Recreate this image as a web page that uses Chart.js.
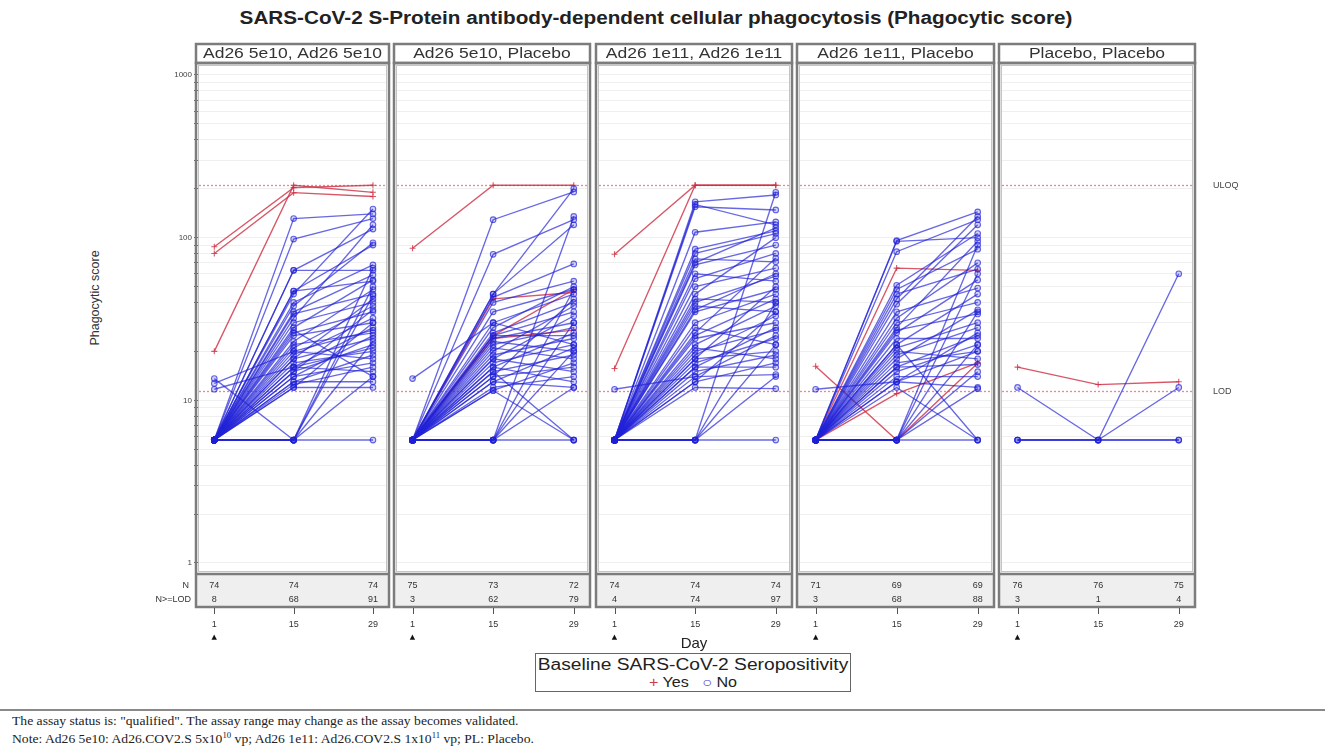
<!DOCTYPE html>
<html>
<head>
<meta charset="utf-8">
<script src="https://cdn.jsdelivr.net/npm/chart.js@4.4.0/dist/chart.umd.min.js"></script>
<style>
    body { margin: 0; background: #fff; width: 1333px; height: 749px; overflow: hidden; position: relative; font-family: "Liberation Sans", Arial, sans-serif; }
    canvas.panel { position: absolute; left: 0; top: 0; }
    #title { position: absolute; top: 8px; left: 0; width: 1312px; text-align: center; font-weight: bold; font-size: 18px; color: #222; transform: scaleX(1.15); }
    #yTitle { position: absolute; left: 45px; top: 291px; width: 100px; text-align: center; font-size: 12.5px; color: #333; transform: rotate(-90deg); }
    #legend { position: absolute; left: 535px; top: 653px; width: 314px; height: 37px; border: 1.5px solid #666; color: #222; }
    #legend .lt { font-size: 16px; line-height: 19px; margin-top: 1px; text-align: center; transform: scaleX(1.2); }
    #legend .li { font-size: 14px; line-height: 16px; text-align: center; transform: scaleX(1.15); }
    #footLine { position: absolute; left: 0; top: 709px; width: 1325px; height: 0; border-top: 2px solid #8a8a8a; }
    .foot { position: absolute; left: 12px; font-family: "Liberation Serif", "Times New Roman", serif; font-size: 12.5px; color: #222; white-space: nowrap; transform: scaleX(1.09); transform-origin: left center; }
    .foot sup { font-size: 8px; }
</style>
</head>
<body>
<div id="title">SARS-CoV-2 S-Protein antibody-dependent cellular phagocytosis (Phagocytic score)</div>
<div id="yTitle">Phagocytic score</div>
<div id="legend">
    <div class="lt">Baseline SARS-CoV-2 Seropositivity</div>
    <div class="li"><span style="color:#d03a4a">+</span> Yes &nbsp;&nbsp;<span style="color:#3a3ad8">○</span> No</div>
</div>
<div id="footLine"></div>
<div class="foot" style="top:714px">The assay status is: "qualified". The assay range may change as the assay becomes validated.</div>
<div class="foot" style="top:731px">Note: Ad26 5e10: Ad26.COV2.S 5x10<sup>10</sup> vp; Ad26 1e11: Ad26.COV2.S 1x10<sup>11</sup> vp; PL: Placebo.</div>

<canvas class="panel" id="p0" width="1333" height="749"></canvas>
<canvas class="panel" id="p1" width="1333" height="749"></canvas>
<canvas class="panel" id="p2" width="1333" height="749"></canvas>
<canvas class="panel" id="p3" width="1333" height="749"></canvas>
<canvas class="panel" id="p4" width="1333" height="749"></canvas>

<script>
// Data
const days = [1, 15, 29];
const panelTitles = ['Ad26 5e10, Ad26 5e10', 'Ad26 5e10, Placebo', 'Ad26 1e11, Ad26 1e11', 'Ad26 1e11, Placebo', 'Placebo, Placebo'];
const nTotal = [[74, 74, 74], [75, 73, 72], [74, 74, 74], [71, 69, 69], [76, 76, 75]];
const nLod = [[8, 68, 91], [3, 62, 79], [4, 74, 97], [3, 68, 88], [3, 1, 4]];
const yTicks = [1, 10, 100, 1000];
const yGridValues = [1, 2, 3, 4, 5, 6, 7, 8, 9, 10, 20, 30, 40, 50, 60, 70, 80, 90, 100, 200, 300, 400, 500, 600, 700, 800, 900, 1000];
const uloq = 210;
const lod = 11.4;

// one row per subject: [day 1, day 15, day 29]
const p1Yes = [[88, 203, 210], [80, 189, 179], [20, 210, 190]];
const p1No = [
    [5.7, 131, 140], [5.7, 98, 131], [5.7, 63, 113], [5.7, 63, 63], [5.7, 47, 90], [5.7, 47, 54],
    [5.7, 45, 150], [5.7, 40, 68], [5.7, 35, 59], [5.7, 34, 45], [5.7, 32, 120], [5.7, 30, 40],
    [5.7, 28, 55], [5.7, 26, 35], [5.7, 25, 30], [5.7, 23, 48], [5.7, 22, 26], [5.7, 21, 38],
    [5.7, 20, 18], [5.7, 19, 32], [5.7, 18, 24], [5.7, 18, 42], [5.7, 17, 20], [5.7, 16, 28],
    [5.7, 16, 15], [5.7, 15, 22], [5.7, 15, 36], [5.7, 14, 17], [5.7, 14, 25], [5.7, 13, 13],
    [5.7, 13, 19], [5.7, 12.5, 16], [5.7, 12, 12], [5.7, 12, 30], [13.6, 5.7, 44], [12.7, 20, 27],
    [11.7, 16, 21], [5.7, 5.7, 5.7], [5.7, 5.7, 50], [5.7, 5.7, 14], [5.7, 5.7, 23], [5.7, 5.7, 65],
    [5.7, 38, 93], [5.7, 27, 14]
];
const p2Yes = [[86, 210, 210], [5.7, 42, 46], [5.7, 25, 48], [5.7, 24, 27]];
const p2No = [
    [13.6, 30, 22], [5.7, 129, 191], [5.7, 79, 129], [5.7, 45, 120], [5.7, 45, 200], [5.7, 43, 69],
    [5.7, 40, 54], [5.7, 35, 48], [5.7, 30, 45], [5.7, 26, 40], [5.7, 25, 35], [5.7, 25, 25],
    [5.7, 24, 30], [5.7, 23, 20], [5.7, 22, 28], [5.7, 21, 18], [5.7, 20, 38], [5.7, 19, 24],
    [5.7, 18, 15], [5.7, 18, 33], [5.7, 17, 22], [5.7, 16, 13], [5.7, 16, 26], [5.7, 15, 19],
    [5.7, 15, 5.7], [5.7, 14, 16], [5.7, 14, 42], [5.7, 13, 12], [5.7, 13, 21], [5.7, 12, 14],
    [5.7, 11.5, 5.7], [5.7, 11.5, 17], [5.7, 5.7, 5.7], [5.7, 5.7, 48], [5.7, 5.7, 30], [5.7, 5.7, 20],
    [5.7, 5.7, 12], [5.7, 5.7, 135], [5.7, 28, 50]
];
const p3Yes = [[79, 210, 210], [15.7, 210, 210]];
const p3No = [
    [11.7, 14, 25], [5.7, 166, 183], [5.7, 155, 148], [5.7, 160, 120], [5.7, 108, 125], [5.7, 85, 110],
    [5.7, 80, 106], [5.7, 74, 71], [5.7, 70, 115], [5.7, 68, 90], [5.7, 60, 54], [5.7, 56, 80],
    [5.7, 50, 65], [5.7, 45, 100], [5.7, 42, 40], [5.7, 40, 58], [5.7, 38, 35], [5.7, 35, 48],
    [5.7, 30, 45], [5.7, 28, 22], [5.7, 25, 42], [5.7, 24, 30], [5.7, 22, 38], [5.7, 21, 18],
    [5.7, 20, 27], [5.7, 19, 33], [5.7, 18, 20], [5.7, 18, 50], [5.7, 17, 24], [5.7, 16, 16],
    [5.7, 16, 28], [5.7, 15, 19], [5.7, 14, 14.4], [5.7, 13, 17], [5.7, 12, 11.8], [5.7, 13, 35],
    [5.7, 5.7, 5.7], [5.7, 5.7, 190], [5.7, 5.7, 22], [5.7, 5.7, 14], [5.7, 5.7, 40], [5.7, 26, 75],
    [5.7, 36, 60]
];
const p4Yes = [[16.2, 5.7, 16.9], [5.7, 65, 63], [5.7, 11, 17]];
const p4No = [
    [11.7, 13, 20], [5.7, 96, 144], [5.7, 82, 129], [5.7, 95, 100], [5.7, 51, 106], [5.7, 48, 85],
    [5.7, 45, 64], [5.7, 39, 120], [5.7, 35, 49], [5.7, 32, 70], [5.7, 30, 40], [5.7, 27, 34],
    [5.7, 26, 55], [5.7, 24, 24], [5.7, 22, 45], [5.7, 21, 30], [5.7, 20, 18], [5.7, 19, 28],
    [5.7, 18, 36], [5.7, 17, 20], [5.7, 16, 16.6], [5.7, 16, 25], [5.7, 15, 22], [5.7, 14, 14],
    [5.7, 13, 12], [5.7, 13, 26], [5.7, 12, 5.7], [5.7, 22, 5.7], [5.7, 5.7, 5.7], [5.7, 5.7, 60],
    [5.7, 5.7, 35], [5.7, 5.7, 22], [5.7, 5.7, 15], [5.7, 5.7, 11.8], [5.7, 5.7, 90], [5.7, 28, 95],
    [5.7, 42, 135]
];
const p5Yes = [[16, 12.5, 13]];
const p5No = [[12, 5.7, 12], [5.7, 5.7, 60], [5.7, 5.7, 5.7], [5.7, 5.7, 5.7]];

const yesRows = [p1Yes, p2Yes, p3Yes, p4Yes, p5Yes];
const noRows = [p1No, p2No, p3No, p4No, p5No];

// Layout
const panelLeft = [196, 394, 596, 797, 999];
const panelRight = [389, 590, 792, 994, 1195];
const plotTop = 65;
const plotBottom = 573;
const tableBottom = 607;
const xAxisH = 80;
const yAxisW = 40;

const blue = 'rgba(32, 32, 215, 0.68)';
const blueFill = 'rgba(32, 32, 215, 0.2)';
const red = 'rgba(205, 45, 65, 0.8)';

function subjectSets(rows, color, fill, style) {
    return rows.map(r => ({
        data: days.map((d, k) => ({ x: d, y: r[k] })),
        borderColor: color,
        backgroundColor: fill,
        pointBorderColor: color,
        pointBackgroundColor: fill,
        pointStyle: style,
        pointRadius: style === 'cross' ? 3 : 2.8,
        pointBorderWidth: 1.1,
        borderWidth: 1.35
    }));
}

const panelDecor = {
    id: 'panelDecor',
    beforeDatasetsDraw(chart) {
        const { ctx, chartArea: a, scales: { y } } = chart;
        ctx.save();
        ctx.strokeStyle = 'rgba(242, 110, 120, 0.85)';
        ctx.setLineDash([2, 2]);
        ctx.lineWidth = 1.3;
        [uloq, lod].forEach(v => {
            const py = Math.round(y.getPixelForValue(v)) + 0.5;
            ctx.beginPath();
            ctx.moveTo(a.left, py);
            ctx.lineTo(a.right, py);
            ctx.stroke();
        });
        ctx.restore();
    },
    afterDraw(chart, args, opts) {
        const i = opts.index;
        const { ctx, scales: { x, y } } = chart;
        const L = panelLeft[i], R = panelRight[i];
        ctx.save();

        // N table
        ctx.fillStyle = '#efefef';
        ctx.fillRect(L, plotBottom + 1, R - L, tableBottom - plotBottom - 1);
        ctx.fillStyle = '#333';
        ctx.font = '9px "Liberation Sans", Arial, sans-serif';
        ctx.textAlign = 'center';
        ctx.textBaseline = 'middle';
        days.forEach((d, k) => {
            const px = x.getPixelForValue(d);
            ctx.fillText(String(nTotal[i][k]), px, 586);
            ctx.fillText(String(nLod[i][k]), px, 600);
        });
        if (i === 0) {
            ctx.textAlign = 'right';
            ctx.fillText('N', 189, 586);
            ctx.fillText('N>=LOD', 191, 600);
        }

        // frames
        ctx.strokeStyle = '#7c7c7c';
        ctx.lineWidth = 2.5;
        ctx.strokeRect(L, 44, R - L, 19);
        ctx.strokeRect(L, 63, R - L, tableBottom - 63);
        ctx.beginPath();
        ctx.moveTo(L, plotBottom + 1);
        ctx.lineTo(R, plotBottom + 1);
        ctx.stroke();
        ctx.strokeStyle = '#c4c4c4';
        ctx.lineWidth = 1;
        ctx.strokeRect(L + 2.5, 65.5, R - L - 5, plotBottom - 67);

        // header text, stretched like the source
        ctx.fillStyle = '#333';
        ctx.font = '14px "Liberation Sans", Arial, sans-serif';
        ctx.textAlign = 'center';
        ctx.textBaseline = 'middle';
        ctx.save();
        ctx.translate((L + R) / 2, 54);
        ctx.scale(1.25, 1);
        ctx.fillText(panelTitles[i], 0, 0);
        ctx.restore();

        // day tick marks and baseline arrow
        ctx.strokeStyle = '#555';
        ctx.lineWidth = 1;
        days.forEach(d => {
            const px = Math.round(x.getPixelForValue(d)) + 0.5;
            ctx.beginPath();
            ctx.moveTo(px, tableBottom + 1);
            ctx.lineTo(px, tableBottom + 7);
            ctx.stroke();
        });
        ctx.fillStyle = '#111';
        ctx.font = '7px "DejaVu Sans", sans-serif';
        ctx.fillText('▲', x.getPixelForValue(days[0]), 637);

        // right-hand reference labels
        if (i === 4) {
            ctx.fillStyle = '#444';
            ctx.font = '9px "Liberation Sans", Arial, sans-serif';
            ctx.textAlign = 'left';
            ctx.fillText('ULOQ', R + 18, y.getPixelForValue(uloq));
            ctx.fillText('LOD', R + 18, y.getPixelForValue(lod));
        }
        ctx.restore();
    }
};

for (let i = 0; i < 5; i++) {
    const first = i === 0;
    new Chart(document.getElementById('p' + i), {
        type: 'line',
        data: {
            datasets: [
                ...subjectSets(noRows[i], blue, blueFill, 'circle'),
                ...subjectSets(yesRows[i], red, red, 'cross')
            ]
        },
        options: {
            responsive: false,
            animation: false,
            layout: {
                padding: {
                    left: panelLeft[i] + 3 - (first ? yAxisW : 0),
                    right: 1333 - (panelRight[i] - 3),
                    top: plotTop,
                    bottom: 749 - plotBottom - xAxisH
                }
            },
            plugins: {
                legend: { display: false },
                tooltip: { enabled: false },
                panelDecor: { index: i }
            },
            scales: {
                x: {
                    type: 'linear',
                    min: -1.7,
                    max: 31.3,
                    afterBuildTicks: s => { s.ticks = days.map(v => ({ value: v })); },
                    afterFit: s => { s.height = xAxisH; },
                    grid: { display: false, drawTicks: false },
                    border: { display: false },
                    ticks: { padding: 46, autoSkip: false, maxRotation: 0, color: '#333', font: { size: 9 } },
                    title: { display: i === 2, text: 'Day', color: '#222', font: { size: 15 }, padding: 0 }
                },
                y: {
                    type: 'logarithmic',
                    min: 0.868,
                    max: 1152,
                    afterBuildTicks: s => { s.ticks = yGridValues.map(v => ({ value: v })); },
                    afterFit: s => { s.width = first ? yAxisW : 0; },
                    grid: { color: '#efefef', drawTicks: first, tickLength: 5, tickColor: '#666' },
                    border: { display: false },
                    ticks: {
                        display: first,
                        autoSkip: false,
                        padding: 2,
                        color: '#444',
                        font: { size: 8 },
                        callback: v => yTicks.includes(v) ? String(v) : ''
                    }
                }
            }
        },
        plugins: [panelDecor]
    });
}
</script>
</body>
</html>
